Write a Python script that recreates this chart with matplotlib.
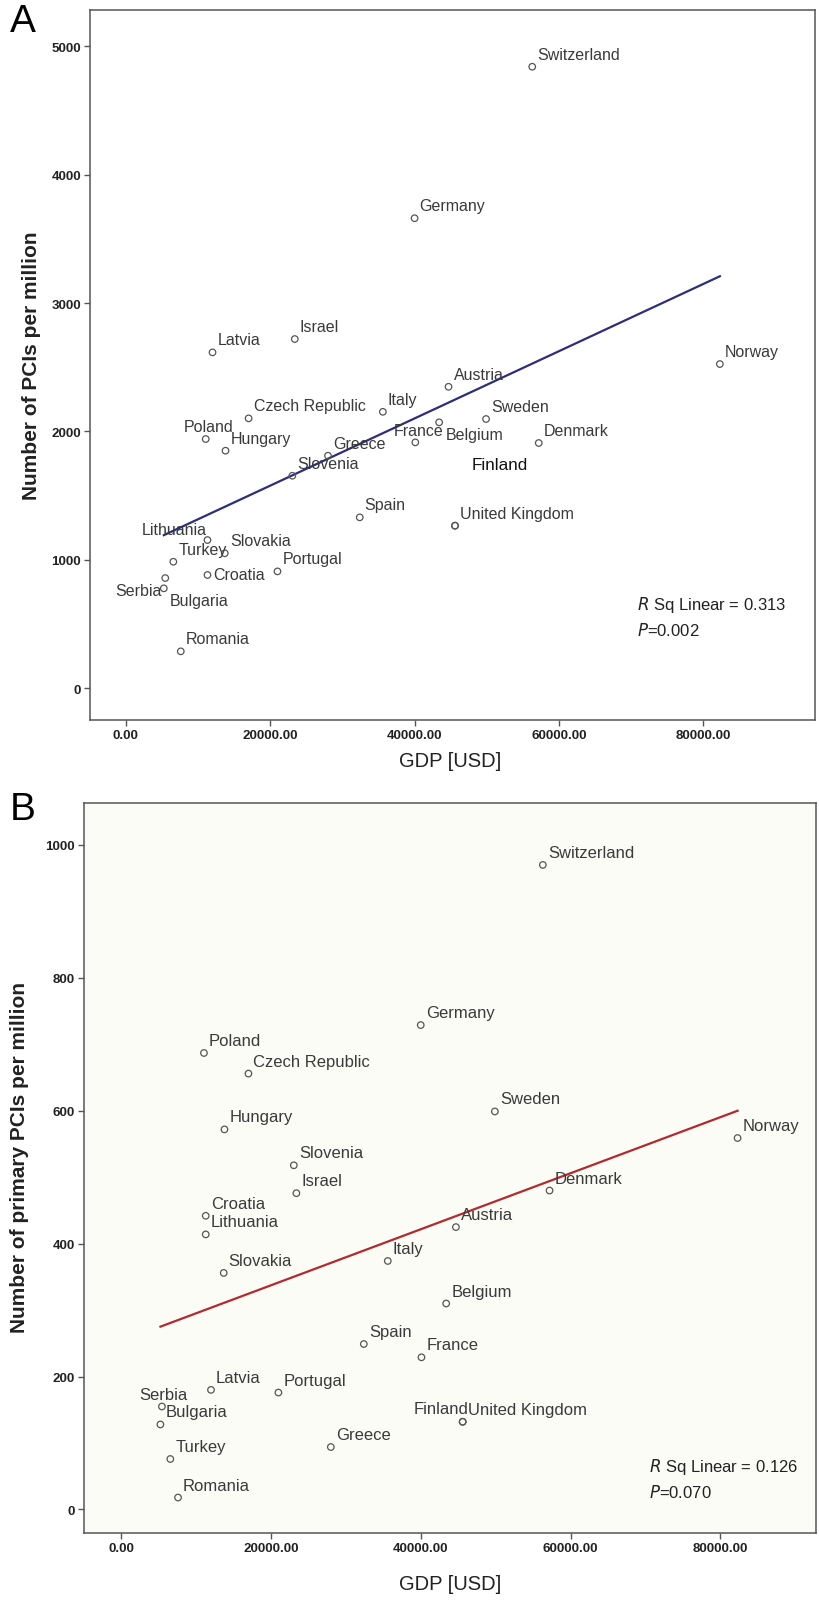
import numpy as np
import matplotlib
matplotlib.use("Agg")
import matplotlib.pyplot as plt

plt.rcParams['font.family'] = ['Liberation Sans', 'DejaVu Sans']

# ---------------- data ----------------
countries = ["Switzerland", "Germany", "Israel", "Latvia", "Norway", "Austria",
             "Czech Republic", "Italy", "Sweden", "Poland", "France", "Belgium",
             "Denmark", "Hungary", "Greece", "Slovenia", "Spain", "United Kingdom",
             "Finland", "Lithuania", "Slovakia", "Turkey", "Croatia", "Portugal",
             "Serbia", "Bulgaria", "Romania"]

gdp_usd = [56300, 40000, 23400, 12000, 82300, 44700,
           17000, 35600, 49900, 11060, 40100, 43400,
           57200, 13800, 28000, 23060, 32400, 45600,
           45600, 11300, 13700, 6570, 11300, 21000,
           5450, 5250, 7600]

pci_per_million = [4841, 3661, 2720, 2616, 2525, 2348,
                   2102, 2153, 2097, 1941, 1915, 2071,
                   1910, 1850, 1811, 1655, 1331, 1266,
                   1266, 1154, 1051, 985, 882, 910,
                   858, 778, 287]

primary_pci_per_million = [970, 729, 476, 180, 559, 425,
                           656, 374, 599, 687, 229, 310,
                           480, 572, 94, 518, 249, 132,
                           132, 414, 356, 76, 442, 176,
                           155, 128, 18]

x_ticks = [0, 20000, 40000, 60000, 80000]
x_tick_labels = ["0.00", "20000.00", "40000.00", "60000.00", "80000.00"]
y_ticks_a = [0, 1000, 2000, 3000, 4000, 5000]
y_ticks_b = [0, 200, 400, 600, 800, 1000]

stats_a = ("0.313", "0.002")
stats_b = ("0.126", "0.070")

# --------------- layout ---------------
W, H = 819, 1606
DEFAULT_OFF = (5, 12.5, 'left')
offsets_a = {
    "Poland": (-22, 12.3, 'left'),
    "France": (-22, 11.6, 'left'),
    "Belgium": (6.5, -11.7, 'left'),
    "Lithuania": (-1, 11, 'right'),
    "Croatia": (5.6, 0, 'left'),
    "Serbia": (-3.6, -12.7, 'right'),
    "Bulgaria": (6, -12.4, 'left'),
    "Finland": (16.7, 60.7, 'left'),
}
offsets_b = {
    "Serbia": (-22.4, 12.3, 'left'),
    "Finland": (6, 13.5, 'right'),
}


def fx(x):
    return x / W


def fy(y):
    return 1 - y / H


fig = plt.figure(figsize=(W / 100, H / 100), dpi=100)
fig.patch.set_facecolor('white')

A_L, A_R, A_T, A_B = 89.9, 815, 11, 721
B_L, B_R, B_T, B_B = 83.6, 816, 803.6, 1534
axA = fig.add_axes([fx(A_L), fy(A_B), fx(A_R) - fx(A_L), fy(A_T) - fy(A_B)])
axB = fig.add_axes([fx(B_L), fy(B_B), fx(B_R) - fx(B_L), fy(B_T) - fy(B_B)])

gdp = np.array(gdp_usd, dtype=float)


def draw_panel(ax, vals, offsets, line_color, xlim, ylim, yticks, ylabel,
               stats, stats_pos, ylabel_pos, xlabel_pos, bg, fs, is_a):
    vals = np.array(vals, dtype=float)
    ax.set_facecolor(bg)
    ax.scatter(gdp, vals, s=22, facecolors='none', edgecolors='#555555',
               linewidths=0.9, zorder=3)
    slope, intercept = np.polyfit(gdp, vals, 1)
    xs = np.array([gdp.min(), gdp.max()])
    ax.plot(xs, intercept + slope * xs, color=line_color, lw=1.6, zorder=2)
    for name, x, y in zip(countries, gdp, vals):
        dx, dy, ha = offsets.get(name, DEFAULT_OFF)
        if name == "Finland" and is_a:
            ax.annotate(name, (x, y), xytext=(dx, dy), textcoords='offset pixels',
                        ha=ha, va='center', fontsize=fs + 0.8, color='#111111',
                        zorder=5)
        else:
            ax.annotate(name, (x, y), xytext=(dx, dy), textcoords='offset pixels',
                        ha=ha, va='center', fontsize=fs, color='#3a3a3a', zorder=4)
    ax.set_xlim(*xlim)
    ax.set_ylim(*ylim)
    ax.set_xticks(x_ticks)
    ax.set_xticklabels(x_tick_labels)
    ax.set_yticks(yticks)
    ax.set_yticklabels([str(t) for t in yticks])
    for lab in ax.get_xticklabels() + ax.get_yticklabels():
        lab.set_fontweight('bold')
        lab.set_fontsize(9.6)
        lab.set_color('#222222')
    ax.tick_params(direction='out', length=4.5, width=1.0, color='#555555', pad=1.8)
    for sp in ax.spines.values():
        sp.set_color('#555555')
        sp.set_linewidth(1.1)
    ax.set_ylabel(ylabel, fontsize=15, fontweight='bold', color='#222222')
    ax.yaxis.set_label_coords(*ylabel_pos)
    ax.set_xlabel("GDP [USD]", fontsize=14.5, color='#222222')
    ax.xaxis.set_label_coords(*xlabel_pos)
    r2, p = stats
    ax.text(stats_pos[0], stats_pos[1], r"$\it{R}$ Sq Linear = " + r2,
            transform=ax.transAxes, fontsize=12, color='#222222', va='center')
    ax.text(stats_pos[0], stats_pos[2], r"$\it{P}$=" + p,
            transform=ax.transAxes, fontsize=12, color='#222222', va='center')


hA = A_B - A_T
wA = A_R - A_L
hB = B_B - B_T
wB = B_R - B_L

draw_panel(axA, pci_per_million, offsets_a, '#2d2d7a',
           (-4990, 95480), (-(A_B - 689.2) / 0.1284, 5283), y_ticks_a,
           "Number of PCIs per million", stats_a,
           ((636.8 - A_L) / wA, (A_B - 605) / hA, (A_B - 630.6) / hA),
           ((41 - A_L) / wA, 0.5), (0.497, (A_B - 752) / hA), 'white', 11.5, True)

draw_panel(axB, primary_pci_per_million, offsets_b, '#b02a2e',
           (-5006, 92770), (-(B_B - 1510.5) / 0.6645, 1063.8), y_ticks_b,
           "Number of primary PCIs per million", stats_b,
           ((649 - B_L) / wB, (B_B - 1467) / hB, (B_B - 1492.6) / hB),
           ((29 - B_L) / wB, 0.515), (0.501, (B_B - 1575) / hB), '#fcfcf6', 12, False)

fig.text(fx(23), fy(22), "A", fontsize=28, ha='center', va='center', color='black')
fig.text(fx(23), fy(810), "B", fontsize=28, ha='center', va='center', color='black')

fig.savefig("out.png", dpi=100)
